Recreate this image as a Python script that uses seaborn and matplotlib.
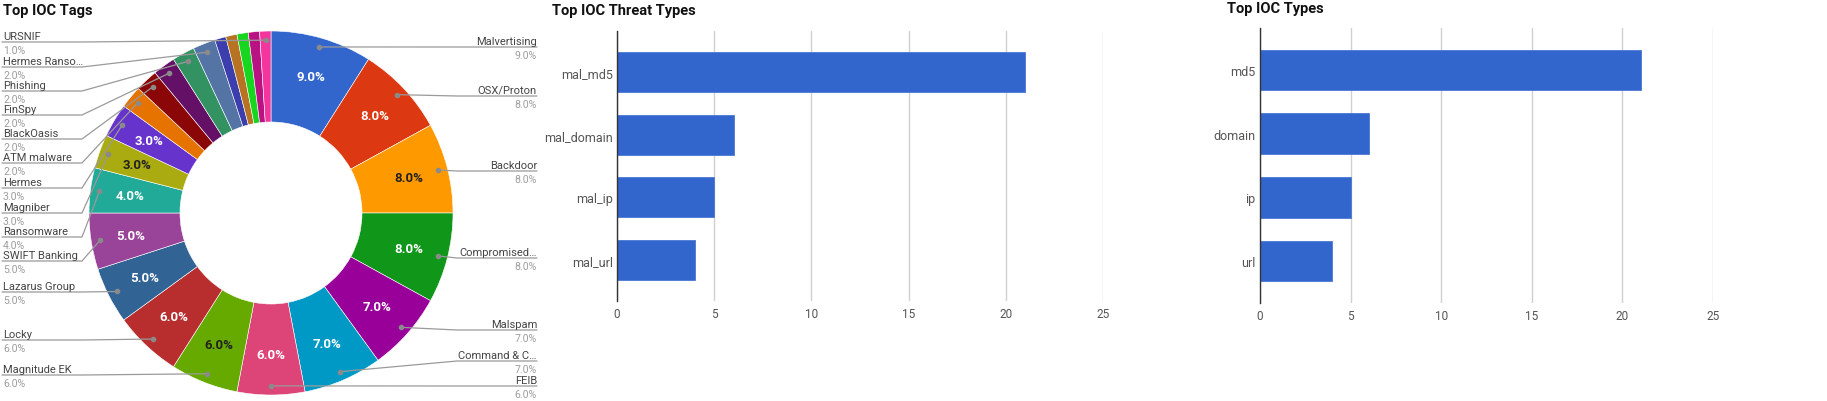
import numpy as np
import seaborn as sns
import matplotlib.pyplot as plt

sns.set_theme(style="white")
plt.rcParams['font.family'] = ['Roboto', 'DejaVu Sans']

# --- data ---
tags = ["Malvertising", "OSX/Proton", "Backdoor", "Compromised…", "Malspam",
        "Command & C…", "FEIB", "Magnitude EK", "Locky", "Lazarus Group",
        "SWIFT Banking", "Ransomware", "Magniber", "Hermes", "ATM malware",
        "BlackOasis", "FinSpy", "Phishing", "Hermes Ranso…",
        "(unlabelled 1)", "(unlabelled 2)", "(unlabelled 3)", "(unlabelled 4)",
        "URSNIF"]
tag_pct = [9, 8, 8, 8, 7, 7, 6, 6, 6, 5, 5, 4, 3, 3, 2, 2, 2, 2, 2,
           1, 1, 1, 1, 1]

threat_types = ["mal_md5", "mal_domain", "mal_ip", "mal_url"]
threat_counts = [21, 6, 5, 4]

ioc_types = ["md5", "domain", "ip", "url"]
ioc_counts = [21, 6, 5, 4]

# google charts palette
colors = ["#3366cc", "#dc3912", "#ff9900", "#109618", "#990099", "#0099c6",
          "#dd4477", "#66aa00", "#b82e2e", "#316395", "#994499", "#22aa99",
          "#aaaa11", "#6633cc", "#e67300", "#8b0707", "#651067", "#329262",
          "#5574a6", "#3b3eac", "#b77322", "#16d620", "#b91383", "#f4359e"]
dark_text = {"#ff9900", "#66aa00", "#aaaa11"}

# label layout (pixel y of leader line)
right_lines = {"Malvertising": 48, "OSX/Proton": 97, "Backdoor": 172,
               "Compromised…": 259, "Malspam": 331, "Command & C…": 362,
               "FEIB": 387}
left_lines = {"URSNIF": 43, "Hermes Ranso…": 68, "Phishing": 92,
              "FinSpy": 116, "BlackOasis": 140, "ATM malware": 164,
              "Hermes": 189, "Magniber": 214, "Ransomware": 238,
              "SWIFT Banking": 262, "Lazarus Group": 293, "Locky": 341,
              "Magnitude EK": 376}

W, H = 1827, 402
fig = plt.figure(figsize=(W / 100, H / 100), dpi=100)

NAME_C = "#444444"
PCT_C = "#9e9e9e"
LINE_C = "#9a9a9a"

# --- donut ---
cx, cy, R = 271, 214, 182
ax = fig.add_axes([(cx - R) / W, (H - cy - R) / H, 2 * R / W, 2 * R / H])
wedges, _ = ax.pie(tag_pct, colors=colors, startangle=90, counterclock=False,
                   radius=1, wedgeprops=dict(width=0.5, edgecolor="white",
                                             linewidth=0.4))
ax.set_xlim(-1, 1)
ax.set_ylim(-1, 1)
ax.set_aspect("equal")
ax.axis("off")


def to_pie(px, py):
    return (px - cx) / R, (cy - py) / R


for w, name, pct, col in zip(wedges, tags, tag_pct, colors):
    th = np.deg2rad((w.theta1 + w.theta2) / 2)
    if pct >= 3:
        ax.text(0.78 * np.cos(th), 0.78 * np.sin(th), f"{pct:.1f}%",
                ha="center", va="center", fontsize=9.5, fontweight="bold",
                color="#222222" if col in dark_text else "white")
    dx, dy = 0.95 * np.cos(th), 0.95 * np.sin(th)
    if name in right_lines:
        ly = right_lines[name]
        ex, ey = to_pie(457, ly)
        fx_, _ = to_pie(537, ly)
        tx, _ = to_pie(537, ly)
    elif name in left_lines:
        ly = left_lines[name]
        ex, ey = to_pie(82, ly)
        fx_, _ = to_pie(2, ly)
        tx, _ = to_pie(3, ly)
    else:
        continue
    if name in right_lines and dx > ex:
        ex = dx
    ax.plot([dx, ex, fx_], [dy, ey, ey], color=LINE_C, lw=0.9,
            clip_on=False, zorder=3)
    ax.plot([dx], [dy], "o", ms=3, color="#8a8a8a", clip_on=False, zorder=4)
    ha = "right" if name in right_lines else "left"
    _, ny = to_pie(0, ly - 3)
    _, py = to_pie(0, ly + 3)
    ax.text(tx, ny, name, ha=ha, va="baseline", fontsize=8, color=NAME_C,
            clip_on=False)
    ax.text(tx, py, f"{pct:.1f}%", ha=ha, va="top", fontsize=7.6,
            color=PCT_C, clip_on=False)

fig.text(3 / W, 1 - 15 / H, "Top IOC Tags", fontsize=10.5,
         fontweight="bold", color="#111111")


# --- bar charts ---
def bar_panel(left, right, top, bottom, cats, vals, title, tx, ty):
    a = fig.add_axes([left / W, 1 - bottom / H, (right - left) / W,
                      (bottom - top) / H])
    sns.barplot(x=vals, y=cats, orient="h", color="#3366cc", saturation=1,
                width=0.64, edgecolor="#4a78d4", linewidth=0.6, ax=a)
    a.set_xlim(0, 25)
    a.set_xticks(range(0, 26, 5))
    a.set_ylim(3.66, -0.66)
    a.grid(axis="x", color="#d0d0d0", lw=1)
    a.set_axisbelow(True)
    for s in ["top", "right", "bottom"]:
        a.spines[s].set_visible(False)
    a.spines["left"].set_color("#333333")
    a.spines["left"].set_linewidth(1)
    a.tick_params(axis="both", length=0, colors="#555555")
    a.tick_params(axis="x", pad=4, labelsize=8.5)
    a.tick_params(axis="y", pad=3, labelsize=9)
    a.set_xlabel("")
    a.set_ylabel("")
    fig.text(tx / W, 1 - ty / H, title, fontsize=10.5, fontweight="bold",
             color="#111111")
    return a


bar_panel(617, 1103, 32, 302, threat_types, threat_counts,
          "Top IOC Threat Types", 552, 15)
bar_panel(1260, 1713, 29, 304, ioc_types, ioc_counts,
          "Top IOC Types", 1227, 13)

fig.savefig("out.png", dpi=100)
